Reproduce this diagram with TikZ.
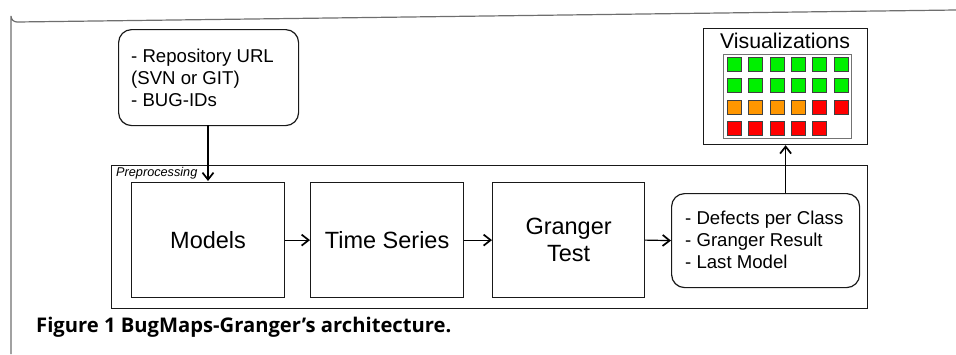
\documentclass[tikz,border=0pt]{standalone}
\usepackage{fontspec}
\setmainfont{Liberation Sans}
\newfontfamily\capfont{Open Sans}
\usetikzlibrary{arrows.meta}
\definecolor{sqg}{RGB}{0,240,0}
\definecolor{sqo}{RGB}{255,150,0}
\definecolor{sqr}{RGB}{255,0,0}
\definecolor{framegray}{RGB}{110,110,110}
\tikzset{
  box/.style={draw=black!90, line width=1.2pt, inner sep=0pt},
  roundbox/.style={box, rounded corners=13pt},
  conn/.style={draw=black, line width=1.2pt, -{Straight Barb[length=7pt,width=11pt,line width=1.7pt]}},
  bigtext/.style={font=\fontsize{23.5}{27}\selectfont, align=center},
  smalltext/.style={font=\fontsize{18.6}{21.8}\selectfont, align=left},
  sq/.style={draw=black!75, line width=0.8pt, minimum width=14pt, minimum height=14pt, inner sep=0pt},
}
\begin{document}
\begin{tikzpicture}[x=1pt,y=-1pt]
\useasboundingbox (0,0) rectangle (956,354);
% outer frame
\draw[framegray, line width=1.2pt] (11,354) -- (11,16) arc[start angle=180,end angle=90,radius=6] -- (956,10);
% preprocessing frame
\node[box, minimum width=756pt, minimum height=143pt, anchor=north west] (pre) at (111,165) {};
\node[anchor=north west, inner sep=0pt, font=\fontsize{12.7}{14}\selectfont\itshape] (prelbl) at (116,167) {Preprocessing};
% input
\node[roundbox, minimum width=180pt, minimum height=96pt, anchor=north west] (in) at (118,29) {};
\node[smalltext, anchor=north west, inner sep=0pt] (intext) at (131,49) {- Repository URL\\(SVN or GIT)\\- BUG-IDs};
% main boxes
\node[box, minimum width=153pt, minimum height=115pt, anchor=north west, bigtext] (models) at (131,182) {Models};
\node[box, minimum width=153pt, minimum height=115pt, anchor=north west, bigtext] (ts) at (310,182) {Time Series};
\node[box, minimum width=152pt, minimum height=115pt, anchor=north west, bigtext] (gt) at (492,182) {Granger\\Test};
\node[roundbox, minimum width=188pt, minimum height=94pt, anchor=north west] (res) at (671,193) {};
\node[smalltext, anchor=north west, inner sep=0pt] (restext) at (685,211) {- Defects per Class\\- Granger Result\\- Last Model};
% visualizations
\node[box, minimum width=164pt, minimum height=116pt, anchor=north west] (vis) at (703,28) {};
\node[font=\fontsize{21.3}{24}\selectfont, inner sep=0pt] (vistitle) at (785,41) {Visualizations};
\node[draw=black!55, line width=1pt, minimum width=128pt, minimum height=84pt, anchor=north west, inner sep=0pt] (grid) at (723,54) {};
\foreach \r/\cols in {0/{sqg,sqg,sqg,sqg,sqg,sqg},1/{sqg,sqg,sqg,sqg,sqg,sqg},2/{sqo,sqo,sqo,sqo,sqr,sqr},3/{sqr,sqr,sqr,sqr,sqr}}{
  \foreach \c [count=\i from 0] in \cols {
    \node[sq, fill=\c, anchor=north west] (sq\r\i) at ({727+\i*21.3},{57+\r*21.3}) {};
  }
}
% connectors
\coordinate (inbot) at (208,125);
\coordinate (intop) at (208,181);
\draw[conn] (inbot) -- (intop);
\draw[conn] (models.east) -- (ts.west);
\draw[conn] (ts.east) -- (gt.west);
\draw[conn] (gt.east) -- (res.west);
\draw[conn] (res.north -| vis.south) -- (vis.south);
% caption
\node[anchor=west, inner sep=0pt, font=\capfont\bfseries\fontsize{20.2}{24}\selectfont] (cap) at (36,327) {Figure 1 BugMaps-Granger’s architecture.};
\end{tikzpicture}
\end{document}
